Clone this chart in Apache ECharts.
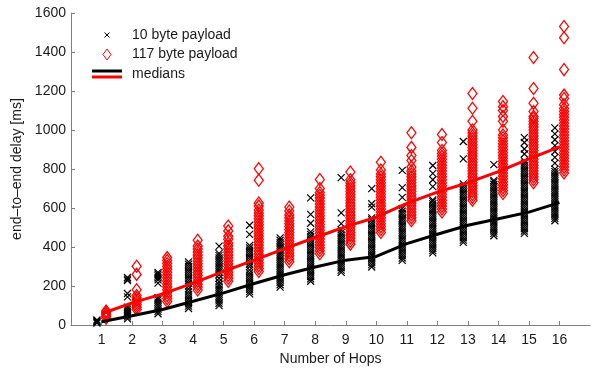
<!DOCTYPE html>
<html>
<head>
<meta charset="utf-8">
<script src="https://cdn.jsdelivr.net/npm/echarts@6/dist/echarts.min.js"></script>
<style>
html,body{margin:0;padding:0;background:#fff;}
#chart{width:593px;height:371px;}
</style>
</head>
<body>
<div id="chart"></div>
<script>
const hops = [1,2,3,4,5,6,7,8,9,10,11,12,13,14,15,16];
const yTicks = [0,200,400,600,800,1000,1200,1400,1600];
const medians10 = [17,48,80,122,165,213,258,298,333,352,418,466,512,545,579,628];
const medians117 = [58,114,160,215,275,333,392,449,505,553,624,682,730,787,852,914];

const delays10 = [
  [10,14,18,22,26],
  [32,42,52,62,72,82,92,145,162,228,236,244],
  [58,70,82,94,106,118,130,140,215,232,242,252,262,270],
  [85,97,109,121,133,145,157,170,185,200,215,228,240,252,264,276,288,300,312,324],
  [100,112,124,136,148,160,172,184,196,208,222,240,258,272,284,296,308,320,332,344,356,368,405],
  [160,172,184,196,208,220,232,244,256,268,282,300,312,324,336,348,360,372,384,396,408,465,512],
  [195,207,219,231,243,255,267,279,291,303,315,327,339,351,363,375,387,399,411,423,435,447],
  [225,237,249,261,273,285,297,309,321,333,345,357,369,381,393,405,417,429,441,453,465,478,522,568,652],
  [270,282,294,306,318,330,342,354,366,378,390,402,414,426,438,450,462,474,488,520,575,756],
  [298,310,322,334,346,358,370,382,394,406,418,430,442,454,466,478,490,502,514,526,540,550,605,622,700],
  [332,344,356,368,380,392,404,416,428,440,452,464,476,488,500,512,524,536,548,560,572,584,598,655,705,793],
  [370,382,394,406,418,430,442,454,466,478,490,502,514,526,538,550,562,574,586,598,610,622,634,642,710,745,778,818],
  [424,436,448,460,472,484,496,508,520,532,544,556,568,580,592,604,616,628,640,652,664,676,688,700,712,724,852,941],
  [458,470,482,494,506,518,530,542,554,566,578,590,602,614,626,638,650,662,674,686,698,710,722,734,742,823],
  [470,482,494,506,518,530,542,554,566,578,590,602,614,626,638,650,662,674,686,698,710,722,734,746,758,770,782,794,806,818,830,842,877,903,936,961],
  [535,547,559,571,583,595,607,619,631,643,655,667,679,691,703,715,727,739,751,763,775,787,800,830,860,890,920,950,980,1011]
];

const delays117 = [
  [35,45,55,65,72],
  [80,92,104,116,128,140,152,181,260,302],
  [121,136,151,166,181,196,211,226,241,256,271,286,301,316,331,346],
  [180,195,210,225,240,255,270,285,300,315,330,345,360,375,390,405,435],
  [225,240,255,270,285,300,315,330,345,360,375,390,405,420,440,455,483,508],
  [275,290,305,320,335,350,365,380,395,410,425,440,455,470,485,500,515,530,545,560,575,590,610,626,743,802],
  [325,340,355,370,385,400,415,430,445,460,475,490,505,520,535,550,565,585,605],
  [366,381,396,411,426,441,456,471,486,501,516,531,546,561,576,591,606,621,636,651,666,680,700,746],
  [415,430,445,460,475,490,505,520,535,550,565,580,595,610,625,640,655,670,685,700,715,730,745,785],
  [475,490,505,520,535,550,565,580,595,610,625,640,655,670,685,700,715,730,745,760,775,795,835],
  [535,550,565,580,595,610,625,640,655,670,685,700,715,730,745,760,775,790,810,844,869,911,986],
  [580,595,610,625,640,655,670,685,700,715,730,745,760,775,790,805,820,835,850,865,880,895,936,977],
  [640,655,670,685,700,715,730,745,760,775,790,805,820,835,850,865,880,895,910,925,940,955,970,985,1000,1045,1112,1187],
  [675,690,705,720,735,750,765,780,795,810,825,840,855,870,885,900,915,930,945,960,975,1000,1045,1070,1100,1120,1146],
  [730,745,760,775,790,805,820,835,850,865,880,895,910,925,940,955,970,985,1000,1015,1030,1045,1060,1070,1095,1137,1213,1372],
  [780,795,810,825,840,855,870,885,900,915,930,945,960,975,990,1005,1020,1035,1050,1065,1080,1095,1110,1130,1162,1179,1310,1473,1531]
];

const OFFSET = 0.15;
const FONT = "'Liberation Sans', Arial, Helvetica, sans-serif";
const FS = 14;
const TEXT = '#1a1a1a';
const AXIS = '#7f7f7f';

const pts10 = [];
delays10.forEach((list, i) => list.forEach(v => pts10.push([hops[i] - OFFSET, v])));
const pts117 = [];
delays117.forEach((list, i) => list.forEach(v => pts117.push([hops[i] + OFFSET, v])));

const crossPath = 'path://M0,0L10,10M10,0L0,10';
const chart = echarts.init(document.getElementById('chart'), null, {renderer: 'canvas'});
chart.setOption({
  animation: false,
  textStyle: {fontFamily: FONT},
  grid: {left: 71, right: 3, top: 13, bottom: 40, containLabel: false},
  legend: {
    orient: 'vertical',
    left: 87,
    top: 22,
    itemWidth: 30,
    itemHeight: 11,
    itemGap: 3.5,
    symbolKeepAspect: true,
    selectedMode: false,
    textStyle: {fontFamily: FONT, fontSize: FS, color: TEXT, lineHeight: 16, padding: [0,0,0,5]},
    itemStyle: {borderWidth: 1},
    data: [
      {name: '10 byte payload', icon: 'path://M0,0L5,5M5,0L0,5M-3,-3M8,8', itemStyle: {color: 'transparent', borderColor: '#000', borderWidth: 1}},
      {name: '117 byte payload', icon: 'path://M4,0L8,5.5L4,11L0,5.5Z', itemStyle: {color: 'transparent', borderColor: '#ff0000', borderWidth: 1}},
      {name: 'medians', icon: 'path://M0,0H30V3H0Z M0,6H30V9H0Z', itemStyle: {
        borderWidth: 0,
        color: {type: 'linear', x: 0, y: 0, x2: 0, y2: 1, colorStops: [
          {offset: 0, color: '#000'}, {offset: 0.5, color: '#000'},
          {offset: 0.5, color: '#ff0000'}, {offset: 1, color: '#ff0000'}]}
      }}
    ]
  },
  xAxis: {
    type: 'value', min: 0, max: 17,
    name: 'Number of Hops', nameLocation: 'middle', nameGap: 19,
    nameTextStyle: {fontFamily: FONT, fontSize: FS, color: TEXT},
    axisLine: {lineStyle: {color: AXIS, width: 1}},
    axisTick: {inside: true, length: 4, customValues: hops, lineStyle: {color: AXIS}},
    axisLabel: {customValues: hops, fontFamily: FONT, fontSize: FS, color: TEXT, margin: 8},
    splitLine: {show: false}
  },
  yAxis: {
    type: 'value', min: 0, max: 1600, interval: 200,
    name: 'end–to–end delay [ms]', nameLocation: 'middle', nameGap: 41, nameRotate: 90,
    nameTextStyle: {fontFamily: FONT, fontSize: FS, color: TEXT},
    axisLine: {show: true, lineStyle: {color: AXIS, width: 1}},
    axisTick: {show: true, inside: true, length: 4, customValues: yTicks, lineStyle: {color: AXIS}},
    axisLabel: {customValues: yTicks, formatter: v => String(v), fontFamily: FONT, fontSize: FS, color: TEXT, margin: 5},
    splitLine: {show: false}
  },
  series: [
    {
      name: '10 byte payload', type: 'scatter', data: pts10,
      symbol: crossPath, symbolSize: 7,
      itemStyle: {color: 'transparent', borderColor: '#000', borderWidth: 1.2, opacity: 1},
      emphasis: {disabled: true}, z: 2
    },
    {
      name: '117 byte payload', type: 'scatter', data: pts117,
      symbol: 'diamond', symbolSize: [9, 12],
      itemStyle: {color: 'transparent', borderColor: '#ff0000', borderWidth: 1.3, opacity: 1},
      emphasis: {disabled: true}, z: 2
    },
    {
      name: 'medians', type: 'line', data: hops.map((h, i) => [h, medians10[i]]),
      symbol: 'none', lineStyle: {color: '#000', width: 3}, itemStyle: {color: '#000'},
      emphasis: {disabled: true}, z: 3
    },
    {
      name: 'medians', type: 'line', data: hops.map((h, i) => [h, medians117[i]]),
      symbol: 'none', lineStyle: {color: '#ff0000', width: 3}, itemStyle: {color: '#ff0000'},
      emphasis: {disabled: true}, z: 3
    }
  ]
});
</script>
</body>
</html>
